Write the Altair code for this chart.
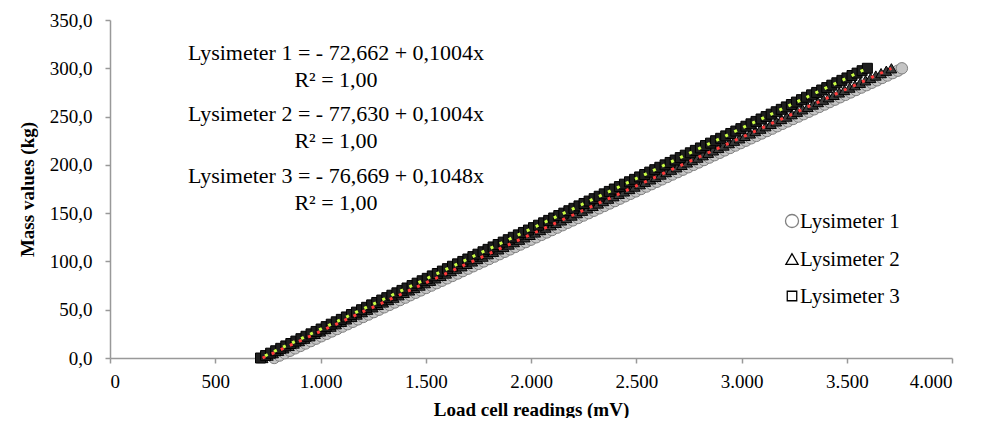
import altair as alt
import pandas as pd

# Mass steps (kg) applied to each lysimeter
mass = [0, 2.5, 5, 7.5, 10, 12.5, 15, 17.5, 20, 22.5, 25, 27.5, 30, 32.5, 35, 37.5, 40,
        42.5, 45, 47.5, 50, 52.5, 55, 57.5, 60, 62.5, 65, 67.5, 70, 72.5, 75, 77.5, 80,
        82.5, 85, 87.5, 90, 92.5, 95, 97.5, 100, 102.5, 105, 107.5, 110, 112.5, 115,
        117.5, 120, 122.5, 125, 127.5, 130, 132.5, 135, 137.5, 140, 142.5, 145, 147.5,
        150, 152.5, 155, 157.5, 160, 162.5, 165, 167.5, 170, 172.5, 175, 177.5, 180,
        182.5, 185, 187.5, 190, 192.5, 195, 197.5, 200, 202.5, 205, 207.5, 210, 212.5,
        215, 217.5, 220, 222.5, 225, 227.5, 230, 232.5, 235, 237.5, 240, 242.5, 245,
        247.5, 250, 252.5, 255, 257.5, 260, 262.5, 265, 267.5, 270, 272.5, 275, 277.5,
        280, 282.5, 285, 287.5, 290, 292.5, 295, 297.5, 300]

# Load cell readings (mV)
lys1_mv = [780, 805, 830, 855, 880, 905, 929, 954, 979, 1004, 1029,
           1054, 1079, 1104, 1129, 1154, 1178, 1203, 1228, 1253, 1278,
           1303, 1328, 1353, 1378, 1403, 1427, 1452, 1477, 1502, 1527,
           1552, 1577, 1602, 1627, 1652, 1676, 1701, 1726, 1751, 1776,
           1801, 1826, 1851, 1876, 1901, 1925, 1950, 1975, 2000, 2025,
           2050, 2075, 2100, 2125, 2150, 2174, 2199, 2224, 2249, 2274,
           2299, 2324, 2349, 2374, 2399, 2423, 2448, 2473, 2498, 2523,
           2548, 2573, 2598, 2623, 2648, 2672, 2697, 2722, 2747, 2772,
           2797, 2822, 2847, 2872, 2897, 2921, 2946, 2971, 2996, 3021,
           3046, 3071, 3096, 3121, 3146, 3170, 3195, 3220, 3245, 3270,
           3295, 3320, 3345, 3370, 3395, 3419, 3444, 3469, 3494, 3519,
           3544, 3569, 3594, 3619, 3644, 3668, 3693, 3718, 3743, 3762]

lys2_mv = [725, 750, 775, 800, 825, 850, 874, 899, 924, 949, 974,
           999, 1024, 1049, 1074, 1099, 1123, 1148, 1173, 1198, 1223,
           1248, 1273, 1298, 1323, 1348, 1372, 1397, 1422, 1447, 1472,
           1497, 1522, 1547, 1572, 1597, 1621, 1646, 1671, 1696, 1721,
           1746, 1771, 1796, 1821, 1846, 1870, 1895, 1920, 1945, 1970,
           1995, 2020, 2045, 2070, 2095, 2119, 2144, 2169, 2194, 2219,
           2244, 2269, 2294, 2319, 2344, 2368, 2393, 2418, 2443, 2468,
           2493, 2518, 2543, 2568, 2593, 2617, 2642, 2667, 2692, 2717,
           2742, 2767, 2792, 2817, 2842, 2866, 2891, 2916, 2941, 2966,
           2991, 3016, 3041, 3066, 3091, 3115, 3140, 3165, 3190, 3215,
           3240, 3265, 3290, 3315, 3340, 3364, 3389, 3414, 3439, 3464,
           3489, 3514, 3539, 3564, 3589, 3613, 3638, 3663, 3688, 3712]

lys3_mv = [715, 739, 763, 787, 811, 835, 859, 883, 907, 931, 955,
           979, 1003, 1027, 1051, 1075, 1099, 1123, 1147, 1171, 1195,
           1219, 1243, 1267, 1291, 1315, 1339, 1363, 1387, 1411, 1435,
           1459, 1483, 1507, 1531, 1555, 1579, 1603, 1627, 1651, 1676,
           1700, 1724, 1748, 1772, 1796, 1820, 1844, 1868, 1892, 1916,
           1940, 1964, 1988, 2012, 2036, 2060, 2084, 2108, 2132, 2156,
           2180, 2204, 2228, 2252, 2276, 2300, 2324, 2348, 2372, 2396,
           2420, 2444, 2468, 2492, 2516, 2540, 2564, 2588, 2612, 2637,
           2661, 2685, 2709, 2733, 2757, 2781, 2805, 2829, 2853, 2877,
           2901, 2925, 2949, 2973, 2997, 3021, 3045, 3069, 3093, 3117,
           3141, 3165, 3189, 3213, 3237, 3261, 3285, 3309, 3333, 3357,
           3381, 3405, 3429, 3453, 3477, 3501, 3525, 3549, 3573, 3598]

series_names = ["Lysimeter 1", "Lysimeter 2", "Lysimeter 3"]

equation_lines = [
    ["Lysimeter  1 = - 72,662 + 0,1004x", "R² = 1,00"],
    ["Lysimeter  2 = - 77,630 + 0,1004x", "R² = 1,00"],
    ["Lysimeter  3 = - 76,669 + 0,1048x", "R² = 1,00"],
]

rows = []
for k, (name, xs) in enumerate(zip(series_names, [lys1_mv, lys2_mv, lys3_mv])):
    for xv, yv in zip(xs, mass):
        rows.append({"series": name, "mv": xv, "kg": yv, "k": k})
df = pd.DataFrame(rows)

FONT = "Liberation Serif"
SHAPES = ["circle", "triangle-up", "square"]
STROKES = ["#808080", "#000000", "#000000"]
FILLS = ["#c4c4c4", "#3c3c3c", "#1e1e1e"]
SIZES = [130, 100, 70]

x_enc = alt.X("mv:Q", scale=alt.Scale(domain=[0, 4000]),
              axis=alt.Axis(values=list(range(0, 4001, 500)),
                            labelExpr="replace(format(datum.value, ','), ',', '.')",
                            title="Load cell readings (mV)", titlePadding=9,
                            labelPadding=9))
y_enc = alt.Y("kg:Q", scale=alt.Scale(domain=[0, 350]),
              axis=alt.Axis(values=list(range(0, 351, 50)),
                            labelExpr="replace(format(datum.value, '.1f'), '.', ',')",
                            title="Mass values (kg)", titlePadding=12,
                            labelPadding=13))

points = alt.Chart(df).mark_point(filled=False, strokeWidth=1, opacity=1).encode(
    x=x_enc,
    y=y_enc,
    shape=alt.Shape("series:N", scale=alt.Scale(domain=series_names, range=SHAPES),
                    legend=None),
    stroke=alt.Stroke("series:N", scale=alt.Scale(domain=series_names, range=STROKES),
                      legend=None),
    fill=alt.Fill("series:N", scale=alt.Scale(domain=series_names, range=FILLS),
                  legend=None),
    size=alt.Size("series:N", scale=alt.Scale(domain=series_names, range=SIZES),
                  legend=None),
    order=alt.Order("k:Q"),
)

trend2 = alt.Chart(df).transform_filter(alt.datum.series == "Lysimeter 2").transform_regression(
    "mv", "kg").mark_line(color="#ff3b3b", strokeWidth=3, strokeDash=[3, 7]).encode(
    x="mv:Q", y="kg:Q")
trend3 = alt.Chart(df).transform_filter(alt.datum.series == "Lysimeter 3").transform_regression(
    "mv", "kg").mark_line(color="#ccff44", strokeWidth=3, strokeDash=[3, 7],
                          strokeDashOffset=5).encode(
    x="mv:Q", y="kg:Q")

one_row = alt.Chart(df).transform_filter(alt.datum.k == 0).transform_filter(alt.datum.kg == 0)

text_layers = []
for lines, ypix in zip(equation_lines, [33, 94, 156]):
    text_layers.append(
        one_row.mark_text(font=FONT, fontSize=22, align="center",
                          baseline="middle", lineHeight=27, color="black",
                          text=lines).encode(x=alt.value(226), y=alt.value(ypix))
    )

# Manual legend (symbols with white fill, like the reference)
legend_layers = []
legend_sym_sizes = [170, 150, 90]
for name, shp, stk, ssz, ypix in zip(series_names, SHAPES, STROKES, legend_sym_sizes,
                                      [201, 239, 276]):
    legend_layers.append(
        one_row.mark_point(shape=shp, stroke=stk, fill="white", filled=False,
                           strokeWidth=1.3, size=ssz, opacity=1).encode(
            x=alt.value(682), y=alt.value(ypix))
    )
    legend_layers.append(
        one_row.mark_text(font=FONT, fontSize=21, align="left", baseline="middle",
                          color="black", text=name).encode(
            x=alt.value(690), y=alt.value(ypix + 1))
    )

chart = alt.layer(points, trend2, trend3, *text_layers, *legend_layers).properties(
    width=842, height=338,
    padding={"left": 102, "top": 12, "right": 20, "bottom": 60},
    autosize=alt.AutoSizeParams(type="none"),
).configure_view(stroke=None).configure_axis(
    grid=False, domainColor="#999999", tickColor="#999999", domainWidth=1.5,
    tickWidth=1.5, tickSize=5, labelFont=FONT, labelFontSize=19, labelColor="black",
    titleFont=FONT, titleFontSize=19, titleFontWeight="bold", titleColor="black",
)

chart.save("out.html", embed_options={"renderer": "svg", "actions": False})
